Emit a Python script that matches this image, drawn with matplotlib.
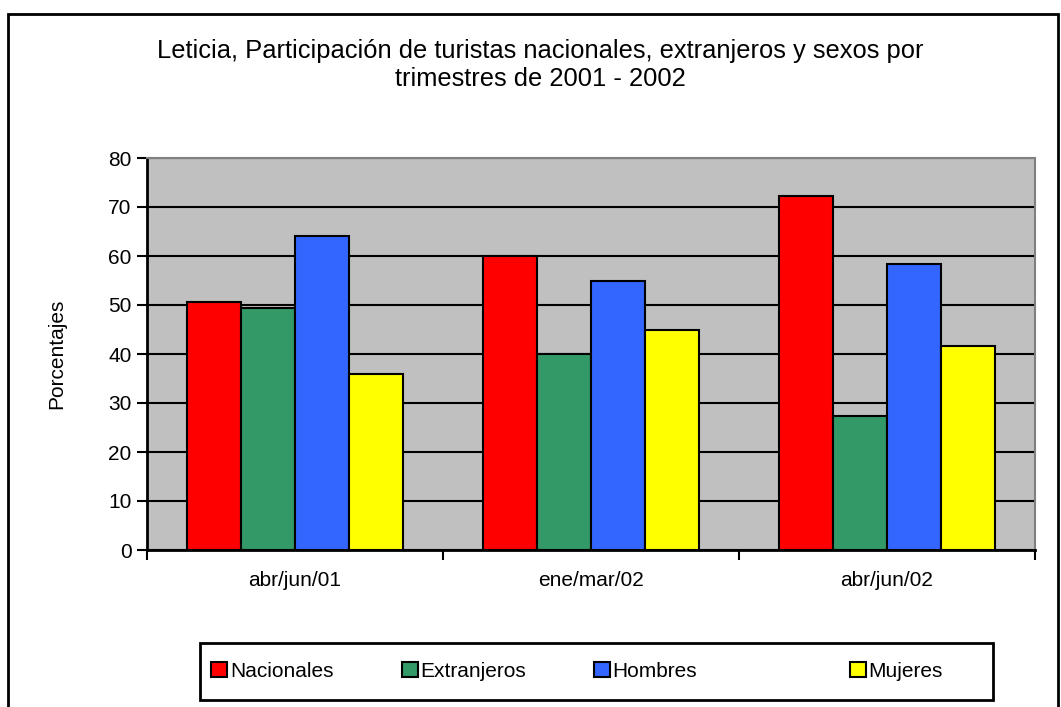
import numpy as np
import matplotlib
matplotlib.use("Agg")
import matplotlib.pyplot as plt
from matplotlib.patches import Rectangle, Patch

plt.rcParams['font.family'] = ['Liberation Sans', 'DejaVu Sans']

# datos
trimestres = ['abr/jun/01', 'ene/mar/02', 'abr/jun/02']
series = ['Nacionales', 'Extranjeros', 'Hombres', 'Mujeres']
nacionales = [50.6, 60.0, 72.2]
extranjeros = [49.4, 40.0, 27.4]
hombres = [64.0, 55.0, 58.3]
mujeres = [36.0, 45.0, 41.7]
colores = ['#FF0000', '#339966', '#3366FF', '#FFFF00']

valores = [nacionales, extranjeros, hombres, mujeres]

W, H = 1061, 707
fig = plt.figure(figsize=(W / 100, H / 100), dpi=100)
ax = fig.add_axes([147/W, 157/H, 888/W, 392/H])
ax.set_facecolor('#C0C0C0')

# marco exterior
fig.patches.append(Rectangle((8/W, -0.02), 1050/W, (H-14)/H + 0.02,
                             transform=fig.transFigure, fill=False,
                             edgecolor='black', linewidth=2))

x = np.arange(len(trimestres))
ancho = 0.727 / 4
for i, (vals, col) in enumerate(zip(valores, colores)):
    ax.bar(x - 0.3635 + ancho * (i + 0.5), vals, ancho, color=col,
           edgecolor='black', linewidth=1.5, zorder=3)

ax.set_xlim(-0.5, 2.5)
ax.set_ylim(0, 80)
ax.set_yticks(np.arange(0, 81, 10))
ax.yaxis.grid(True, color='black', linewidth=1.5, zorder=1)
ax.set_axisbelow(True)

ax.set_xticks([-0.5, 0.5, 1.5, 2.5])
ax.set_xticklabels([])
ax.set_xticks(x, minor=True)
ax.set_xticklabels(trimestres, minor=True)
ax.tick_params(axis='x', which='minor', length=0, pad=15, labelsize=15)
ax.tick_params(axis='x', which='major', length=7, width=1.5, direction='out')
ax.tick_params(axis='y', length=7, width=1.5, direction='out', labelsize=15, pad=4)

for s in ['top', 'right']:
    ax.spines[s].set_color('#808080')
    ax.spines[s].set_linewidth(1.5)
for s in ['left', 'bottom']:
    ax.spines[s].set_color('black')
    ax.spines[s].set_linewidth(2)

ax.set_ylabel('Porcentajes', fontsize=15, labelpad=30)

fig.text(0.509, 1 - 65/H,
         'Leticia, Participación de turistas nacionales, extranjeros y sexos por\ntrimestres de 2001 - 2002',
         ha='center', va='center', fontsize=18.4, linespacing=1.2)

# caja de la leyenda
fig.patches.append(Rectangle((200/W, 7/H), 793/W, 57/H, transform=fig.transFigure,
                             facecolor='white', edgecolor='black', linewidth=2))
pos_leyenda = [211, 402, 594, 850]
for nombre, col, px in zip(series, colores, pos_leyenda):
    h = Patch(facecolor=col, edgecolor='black', linewidth=1.5)
    lg = fig.legend([h], [nombre], loc='center left',
                    bbox_to_anchor=(px/W, 35.5/H), bbox_transform=fig.transFigure,
                    fontsize=15, handlelength=0.75, handleheight=0.75,
                    handletextpad=0.15, borderpad=0, borderaxespad=0,
                    frameon=False)

fig.savefig('out.png', dpi=100)
